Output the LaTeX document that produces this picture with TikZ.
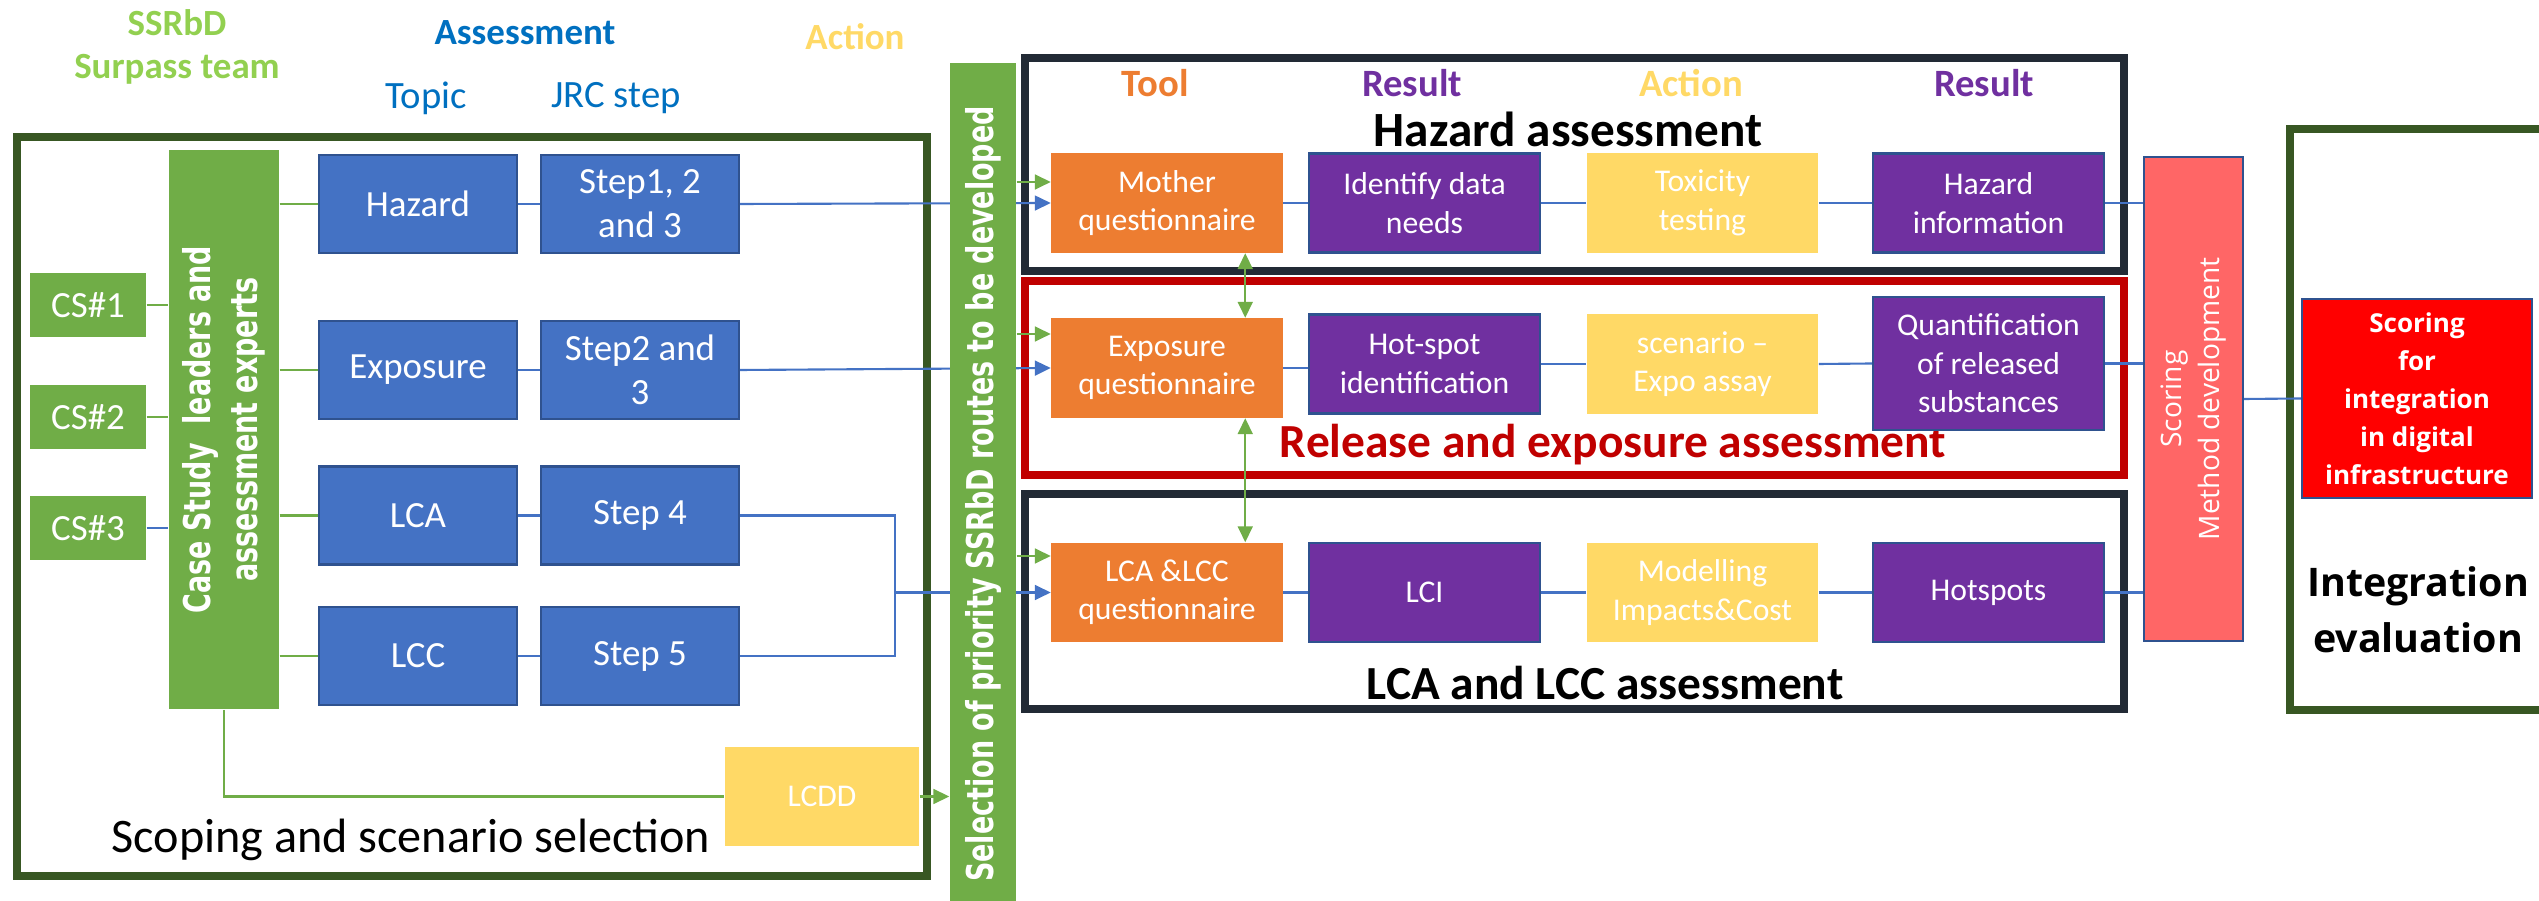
\documentclass[tikz,border=0pt]{standalone}
\usepackage{fontspec}
\setmainfont{Carlito}
\newfontfamily\condbold[FakeStretch=0.73]{DejaVu Sans Bold}
\newfontfamily\opensans{Open Sans}
\usetikzlibrary{arrows.meta,backgrounds,shadows}

\definecolor{teamgreen}{HTML}{70AD47}
\definecolor{titlegreen}{HTML}{92D050}
\definecolor{framegreen}{HTML}{385723}
\definecolor{framenavy}{HTML}{222A35}
\definecolor{framered}{HTML}{C00000}
\definecolor{topicblue}{HTML}{4472C4}
\definecolor{boxline}{HTML}{2F528F}
\definecolor{labelblue}{HTML}{0070C0}
\definecolor{toolorange}{HTML}{ED7D31}
\definecolor{resultpurple}{HTML}{7030A0}
\definecolor{actionyellow}{HTML}{FFD966}
\definecolor{scorepink}{HTML}{FF6666}

\tikzset{
  areaframe/.style={line width=2.3pt, fill=white,
    drop shadow={opacity=0.3, shadow xshift=1.2pt, shadow yshift=-1.2pt}},
  casebox/.style={fill=teamgreen, text=white, minimum width=1.16cm,
    minimum height=0.64cm, inner sep=0pt, font=\fontsize{10.5}{12.5}\selectfont},
  topicbox/.style={draw=boxline, line width=0.6pt, fill=topicblue, text=white,
    minimum width=1.98cm, minimum height=0.98cm, inner sep=1pt, align=center,
    font=\fontsize{10.5}{12.5}\selectfont},
  toolbox/.style={fill=toolorange, text=white, minimum width=2.31cm,
    minimum height=0.99cm, inner sep=1pt, align=center,
    font=\fontsize{9}{10.9}\selectfont},
  resultbox/.style={toolbox, draw=boxline, line width=0.6pt, fill=resultpurple},
  actionbox/.style={toolbox, fill=actionyellow},
  vtext/.style={rotate=90, text=white, inner sep=0pt, align=center},
  heading/.style={font=\fontsize{11}{13}\selectfont\bfseries},
  areatitle/.style={font=\fontsize{13.5}{16}\selectfont\bfseries},
  toptitle/.style={font=\fontsize{10.5}{12.2}\selectfont\bfseries, align=center},
  sublabel/.style={text=labelblue, font=\fontsize{11}{13}\selectfont},
  link/.style={draw=topicblue, line width=0.6pt},
  feed/.style={draw=teamgreen, line width=0.6pt}
}

\begin{document}
\begin{tikzpicture}[x=0.01cm, y=-0.01cm, >={Triangle[length=4.5pt,width=4.2pt]}]
\useasboundingbox (0,0) rectangle (2539,901);

% frames
\begin{scope}[on background layer]
  \draw[areaframe, draw=framegreen] (17,137) rectangle (927,876);
  \draw[areaframe, draw=framenavy] (1025,58) rectangle (2124,271);
  \draw[areaframe, draw=framered] (1025,281) rectangle (2124,475);
  \draw[areaframe, draw=framenavy] (1025,494) rectangle (2124,709);
  \draw[areaframe, draw=framegreen] (2600,129) -| (2290,710) -- (2600,710);
\end{scope}

% column titles
\node (team) [toptitle, text=titlegreen] at (177,47) {SSRbD\\Surpass team};
\node (assess) [toptitle, text=labelblue] at (525,33) {Assessment};
\node (act) [toptitle, text=actionyellow] at (855,37) {Action};
\node (topic) [sublabel] at (426,98) {Topic};
\node (jrc) [sublabel] at (616,98) {JRC step};

% scoping
\node (cs1) [casebox] at (88,305) {CS\#1};
\node (cs2) [casebox] at (88,417) {CS\#2};
\node (cs3) [casebox] at (88,528) {CS\#3};
\node (case) [fill=teamgreen, minimum width=1.10cm, minimum height=5.59cm] at (224,429.5) {};
\node (casetext) [vtext, font=\condbold\fontsize{10.5}{13.4}\selectfont] at (case)
  {Case Study \ leaders and\\assessment experts};
\node (hazard) [topicbox] at (418,204) {Hazard};
\node (expo) [topicbox] at (418,370) {Exposure};
\node (lca) [topicbox] at (418,515.5) {LCA};
\node (lcc) [topicbox] at (418,656) {LCC};
\node (step1) [topicbox] at (640,204) {Step1, 2\\and 3};
\node (step2) [topicbox] at (640,370) {Step2 and\\3};
\node (step4) [topicbox] at (640,515.5) {Step 4};
\node (step5) [topicbox] at (640,656) {Step 5};
\node (lcdd) [actionbox, minimum width=1.94cm] at (822,796.5) {LCDD};
\node (scoping) [font=\fontsize{13.7}{16}\selectfont] at (411,840) {Scoping and scenario selection};
\coordinate (merge) at (895,592.5);

% selection
\node (sel) [fill=teamgreen, minimum width=0.66cm, minimum height=8.38cm] at (983,482) {};
\node (seltext) [vtext, font=\condbold\fontsize{10.5}{13}\selectfont] at (983,494)
  {Selection of priority SSRbD routes to be developed};

% assessment areas
\node (tool) [heading, text=toolorange] at (1155,83) {Tool};
\node (res1) [heading, text=resultpurple] at (1412,83) {Result};
\node (act2) [heading, text=actionyellow] at (1691,83) {Action};
\node (res2) [heading, text=resultpurple] at (1984,83) {Result};
\node (hztitle) [font=\fontsize{14}{16}\selectfont\bfseries] at (1568,129) {Hazard assessment};
\node (retitle) [areatitle, text=framered] at (1613,445) {Release and exposure assessment};
\node (lctitle) [areatitle] at (1605,683) {LCA and LCC assessment};

\node (mother) [toolbox] at (1167,203) {Mother\\questionnaire};
\node (needs) [resultbox] at (1424.5,203) {Identify data\\needs};
\node (tox) [actionbox] at (1702.5,203) {Toxicity\\testing};
\node (hzinfo) [resultbox] at (1988.5,203) {Hazard\\information};
\node (expq) [toolbox] at (1167,368) {Exposure\\questionnaire};
\node (hot) [resultbox] at (1424.5,364) {Hot-spot\\identification};
\node (scen) [actionbox] at (1702.5,364) {scenario –\\Expo assay};
\node (quant) [resultbox, minimum height=1.33cm] at (1988.5,363.5) {Quantification\\of released\\substances};
\node (lcq) [toolbox] at (1167,592.5) {LCA \&LCC\\questionnaire};
\node (lci) [resultbox] at (1424.5,592.5) {LCI};
\node (model) [actionbox] at (1702.5,592.5) {Modelling\\Impacts\&Cost};
\node (hots) [resultbox] at (1988.5,592.5) {Hotspots};

% scoring and integration
\node (scoring) [fill=scorepink, draw=boxline, line width=0.6pt, minimum width=0.99cm,
  minimum height=4.84cm] at (2193.5,399) {};
\node (scoringtext) [vtext, font=\opensans\fontsize{8}{10.8}\selectfont] at (scoring)
  {Scoring\\Method development};
\node (digital) [fill=red, draw=boxline, line width=0.6pt, text=white, minimum width=2.30cm,
  minimum height=1.99cm, align=center, font=\opensans\bfseries\fontsize{7.4}{10.8}\selectfont]
  at (2417,398.5) {Scoring\\for\\integration\\in digital\\infrastructure};
\node (integ) [align=center, font=\opensans\bfseries\fontsize{11.2}{16}\selectfont] at (2418,610)
  {Integration\\evaluation};

% connectors
\begin{scope}[on background layer]
  \draw[feed] (cs1.east) -- (cs1.east -| case.west);
  \draw[feed] (cs2.east) -- (cs2.east -| case.west);
  \draw[link] (cs3.east) -- (cs3.east -| case.west);
  \foreach \t in {hazard,expo,lca,lcc}
    \draw[feed] (\t.west -| case.east) -- (\t.west);
  \draw[link] (hazard.east) -- (step1.west);
  \draw[link] (expo.east) -- (step2.west);
  \draw[link] (lca.east) -- (step4.west);
  \draw[link] (lcc.east) -- (step5.west);
  \draw[link, ->] (step1.east) -- (mother.west);
  \draw[link, ->] (step2.east) -- (expq.west);
  \draw[link] (step4.east) -| (merge) |- (step5.east);
  \draw[link, ->] (merge) -- (lcq.west);
  \draw[feed] (case.south) |- (lcdd.west);
  \draw[feed, ->] (lcdd.east) -- (lcdd.east -| sel.west);

  \draw[feed, ->] (sel.east |- 0,182) -- (mother.west |- 0,182);
  \draw[feed, ->] (sel.east |- 0,334) -- (expq.west |- 0,334);
  \draw[feed, ->] (sel.east |- 0,556) -- (lcq.west |- 0,556);
  \draw[feed, <->] ([xshift=-0.38cm]mother.south east) -- ([xshift=-0.38cm]expq.north east);
  \draw[feed, <->] ([xshift=-0.38cm]expq.south east) -- ([xshift=-0.38cm]lcq.north east);

  \draw[link] (mother.east) -- (needs.west);
  \draw[link] (needs.east) -- (tox.west);
  \draw[link] (tox.east) -- (hzinfo.west);
  \draw[link] (expq.east) -- (expq.east -| hot.west);
  \draw[link] (hot.east) -- (scen.west);
  \draw[link] (scen.east) -- (quant.west);
  \draw[link] (lcq.east) -- (lci.west);
  \draw[link] (lci.east) -- (model.west);
  \draw[link] (model.east) -- (hots.west);
  \draw[link] (hzinfo.east) -- (hzinfo.east -| scoring.west);
  \draw[link] (quant.east) -- (quant.east -| scoring.west);
  \draw[link] (hots.east) -- (hots.east -| scoring.west);
  \draw[link] (scoring.east) -- (digital.west);
\end{scope}
\end{tikzpicture}
\end{document}
